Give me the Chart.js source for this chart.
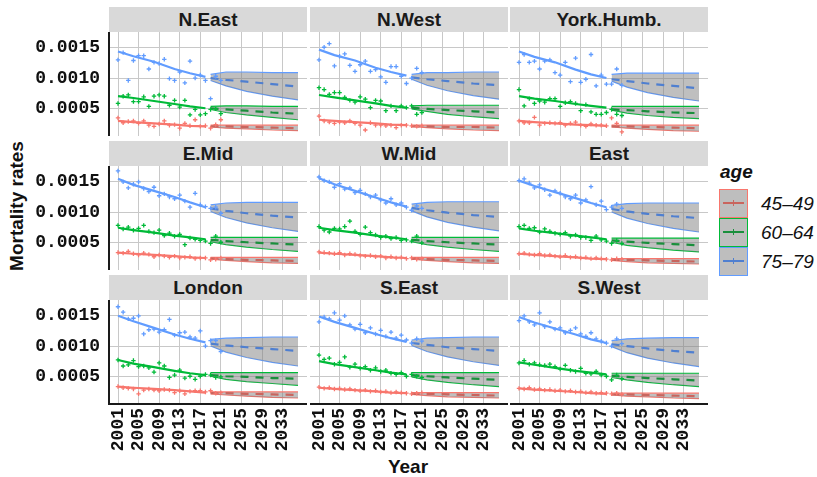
<!DOCTYPE html>
<html>
<head>
<meta charset="utf-8">
<script src="https://cdn.jsdelivr.net/npm/chart.js@4"></script>
<style>
  body { margin: 0; background: #fff; width: 817px; height: 477px; position: relative; overflow: hidden; font-family: "Liberation Sans", Arial, sans-serif; }
  .strip { position: absolute; height: 25px; background: #d9d9d9; text-align: center; font-weight: bold; font-size: 19px; line-height: 26px; color: #1a1a1a; }
  canvas { position: absolute; }
  .ytitle { position: absolute; left: 17px; top: 206px; transform: translate(-50%, -50%) rotate(-90deg); font-weight: bold; font-size: 19px; white-space: nowrap; color: #111; }
  .xtitle { position: absolute; left: 408px; top: 467px; transform: translate(-50%, -50%); font-weight: bold; font-size: 19px; color: #111; }
  .lgtitle { position: absolute; left: 720px; top: 161px; font-weight: bold; font-style: italic; font-size: 19px; color: #111; }
  .key { position: absolute; left: 719px; width: 27px; height: 27px; background: #bebebe; border: 1px solid; }
  .key .ln { position: absolute; left: 3px; top: 12px; width: 21px; height: 2px; }
  .key .pt { position: absolute; left: 13px; top: 10px; width: 1px; height: 6px; }
  .lglabel { position: absolute; left: 761px; font-style: italic; font-size: 19px; color: #111; line-height: 29px; }
</style>
</head>
<body>
<div class="ytitle">Mortality rates</div>
<div class="xtitle">Year</div>
<div class="lgtitle">age</div>
<script>
const regions = ["N.East", "N.West", "York.Humb.", "E.Mid", "W.Mid", "East", "London", "S.East", "S.West"];
const ages = ["45–49", "60–64", "75–79"];
const ageColors = ["#F8766D", "#00BA38", "#619CFF"];
const darkColors = ["#c9655e", "#1a8f3c", "#4f7fd0"];

const obsYears = [2001, 2002, 2003, 2004, 2005, 2006, 2007, 2008, 2009, 2010, 2011, 2012, 2013, 2014, 2015, 2016, 2017, 2018, 2019, 2020, 2021];
const fitYears = [2001, 2004, 2008, 2012, 2015, 2018];
const fcYears = [2019, 2022, 2026, 2031, 2036];
const yearTicks = [2001, 2005, 2009, 2013, 2017, 2021, 2025, 2029, 2033];
const rateTicks = [0.0005, 0.0010, 0.0015];
const rateTickLabels = ["0.0005", "0.0010", "0.0015"];

// observed rates, one row per region (same order as regions)
const obs45 = [
  [0.00034,0.00026,0.00028,0.00029,0.00025,0.00029,0.00022,0.00020,0.00024,0.00029,0.00022,0.00023,0.00017,0.00025,0.00021,0.00031,0.00020,0.00021,0.00017,0.00023,0.00031],
  [0.00037,0.00029,0.00027,0.00025,0.00027,0.00026,0.00029,0.00025,0.00022,0.00014,0.00026,0.00022,0.00022,0.00021,0.00022,0.00018,0.00022,0.00022,0.00021,0.00020,0.00021],
  [0.00029,0.00026,0.00026,0.00035,0.00022,0.00025,0.00026,0.00025,0.00026,0.00022,0.00025,0.00027,0.00022,0.00020,0.00024,0.00022,0.00022,0.00021,0.00034,0.00025,0.00011],
  [0.00033,0.00032,0.00035,0.00031,0.00029,0.00032,0.00030,0.00026,0.00029,0.00027,0.00025,0.00027,0.00024,0.00025,0.00026,0.00023,0.00024,0.00024,0.00021,0.00022,0.00024],
  [0.00034,0.00033,0.00032,0.00031,0.00033,0.00029,0.00031,0.00030,0.00028,0.00027,0.00028,0.00026,0.00027,0.00024,0.00026,0.00024,0.00025,0.00023,0.00024,0.00022,0.00023],
  [0.00031,0.00032,0.00030,0.00029,0.00031,0.00028,0.00029,0.00027,0.00026,0.00028,0.00025,0.00026,0.00024,0.00025,0.00023,0.00024,0.00023,0.00022,0.00021,0.00023,0.00022],
  [0.00033,0.00031,0.00030,0.00029,0.00021,0.00027,0.00029,0.00027,0.00026,0.00028,0.00027,0.00023,0.00026,0.00021,0.00025,0.00026,0.00026,0.00024,0.00026,0.00022,0.00023],
  [0.00032,0.00030,0.00031,0.00029,0.00030,0.00028,0.00029,0.00027,0.00026,0.00027,0.00025,0.00026,0.00024,0.00025,0.00023,0.00024,0.00023,0.00022,0.00021,0.00022,0.00023],
  [0.00030,0.00029,0.00031,0.00028,0.00029,0.00027,0.00028,0.00026,0.00027,0.00025,0.00026,0.00024,0.00025,0.00023,0.00024,0.00022,0.00023,0.00022,0.00021,0.00022,0.00020]
];
const obs60 = [
  [0.00058,0.00070,0.00072,0.00061,0.00061,0.00069,0.00053,0.00070,0.00072,0.00070,0.00055,0.00063,0.00052,0.00063,0.00039,0.00048,0.00039,0.00041,0.00048,0.00049,0.00041],
  [0.00084,0.00081,0.00073,0.00076,0.00076,0.00068,0.00063,0.00060,0.00069,0.00065,0.00051,0.00063,0.00062,0.00046,0.00054,0.00046,0.00054,0.00051,0.00054,0.00040,0.00043],
  [0.00081,0.00054,0.00066,0.00058,0.00062,0.00060,0.00066,0.00066,0.00053,0.00059,0.00061,0.00058,0.00046,0.00056,0.00044,0.00040,0.00040,0.00043,0.00048,0.00040,0.00038],
  [0.00078,0.00072,0.00075,0.00070,0.00073,0.00078,0.00068,0.00066,0.00070,0.00061,0.00065,0.00060,0.00063,0.00046,0.00057,0.00055,0.00053,0.00052,0.00048,0.00060,0.00050],
  [0.00076,0.00070,0.00067,0.00073,0.00072,0.00076,0.00085,0.00068,0.00063,0.00075,0.00066,0.00062,0.00058,0.00060,0.00056,0.00058,0.00053,0.00054,0.00052,0.00060,0.00049],
  [0.00076,0.00078,0.00073,0.00074,0.00067,0.00072,0.00068,0.00065,0.00063,0.00066,0.00060,0.00062,0.00058,0.00058,0.00053,0.00060,0.00054,0.00052,0.00048,0.00053,0.00048],
  [0.00077,0.00067,0.00069,0.00076,0.00066,0.00067,0.00064,0.00057,0.00072,0.00067,0.00048,0.00052,0.00060,0.00047,0.00050,0.00045,0.00050,0.00053,0.00052,0.00048,0.00049],
  [0.00085,0.00078,0.00080,0.00070,0.00073,0.00082,0.00065,0.00070,0.00063,0.00066,0.00060,0.00064,0.00058,0.00060,0.00055,0.00053,0.00056,0.00050,0.00053,0.00050,0.00048],
  [0.00072,0.00076,0.00070,0.00072,0.00069,0.00068,0.00070,0.00066,0.00062,0.00068,0.00060,0.00058,0.00063,0.00055,0.00054,0.00058,0.00052,0.00050,0.00044,0.00052,0.00046]
];
const obs75 = [
  [0.00130,0.00142,0.00096,0.00129,0.00137,0.00137,0.00115,0.00126,0.00124,0.00131,0.00099,0.00096,0.00110,0.00092,0.00128,0.00100,0.00105,0.00096,0.00066,0.00103,0.00096],
  [0.00130,0.00151,0.00157,0.00120,0.00136,0.00140,0.00121,0.00111,0.00122,0.00128,0.00111,0.00114,0.00102,0.00093,0.00119,0.00119,0.00103,0.00091,0.00100,0.00116,0.00109],
  [0.00126,0.00139,0.00126,0.00128,0.00115,0.00128,0.00130,0.00109,0.00105,0.00126,0.00094,0.00133,0.00093,0.00098,0.00139,0.00087,0.00105,0.00090,0.00090,0.00115,0.00088],
  [0.00168,0.00150,0.00140,0.00146,0.00150,0.00139,0.00134,0.00141,0.00127,0.00130,0.00125,0.00122,0.00128,0.00118,0.00108,0.00131,0.00112,0.00109,0.00106,0.00108,0.00098],
  [0.00158,0.00152,0.00150,0.00141,0.00147,0.00138,0.00140,0.00132,0.00136,0.00130,0.00125,0.00128,0.00120,0.00115,0.00122,0.00112,0.00115,0.00108,0.00103,0.00110,0.00106],
  [0.00152,0.00155,0.00148,0.00140,0.00145,0.00137,0.00128,0.00135,0.00131,0.00125,0.00122,0.00128,0.00115,0.00120,0.00142,0.00112,0.00118,0.00104,0.00108,0.00113,0.00106],
  [0.00165,0.00156,0.00145,0.00146,0.00150,0.00120,0.00127,0.00128,0.00123,0.00127,0.00144,0.00118,0.00122,0.00123,0.00115,0.00113,0.00125,0.00100,0.00109,0.00109,0.00091],
  [0.00140,0.00148,0.00145,0.00155,0.00143,0.00150,0.00135,0.00128,0.00136,0.00122,0.00130,0.00120,0.00126,0.00116,0.00123,0.00113,0.00118,0.00110,0.00105,0.00112,0.00108],
  [0.00142,0.00150,0.00140,0.00135,0.00155,0.00132,0.00140,0.00128,0.00130,0.00122,0.00126,0.00130,0.00120,0.00116,0.00122,0.00112,0.00108,0.00105,0.00100,0.00112,0.00104]
];

// fitted rates at fitYears
const fit45 = [
  [0.00029,0.00027,0.00025,0.00023,0.00021,0.00020],
  [0.00031,0.00029,0.00027,0.00025,0.00023,0.00022],
  [0.00029,0.00027,0.00025,0.00023,0.00022,0.00021],
  [0.00033,0.00031,0.00029,0.00027,0.00025,0.00024],
  [0.00033,0.00031,0.00029,0.00027,0.00025,0.00024],
  [0.00031,0.00029,0.00027,0.00025,0.00023,0.00022],
  [0.00033,0.00031,0.00029,0.00027,0.00025,0.00023],
  [0.00031,0.00029,0.00027,0.00025,0.00023,0.00022],
  [0.00030,0.00028,0.00026,0.00024,0.00022,0.00021]
];
const fit60 = [
  [0.00070,0.00067,0.00062,0.00057,0.00053,0.00050],
  [0.00072,0.00068,0.00063,0.00058,0.00054,0.00051],
  [0.00070,0.00066,0.00062,0.00057,0.00054,0.00051],
  [0.00074,0.00070,0.00066,0.00061,0.00058,0.00055],
  [0.00074,0.00070,0.00066,0.00061,0.00058,0.00055],
  [0.00073,0.00069,0.00065,0.00061,0.00058,0.00055],
  [0.00077,0.00071,0.00065,0.00059,0.00055,0.00052],
  [0.00075,0.00070,0.00065,0.00060,0.00056,0.00053],
  [0.00073,0.00069,0.00064,0.00059,0.00056,0.00053]
];
const fit75 = [
  [0.00144,0.00136,0.00127,0.00115,0.00108,0.00102],
  [0.00147,0.00138,0.00129,0.00117,0.00110,0.00104],
  [0.00144,0.00135,0.00126,0.00114,0.00106,0.00100],
  [0.00155,0.00145,0.00135,0.00125,0.00116,0.00108],
  [0.00156,0.00146,0.00135,0.00124,0.00116,0.00109],
  [0.00152,0.00143,0.00133,0.00123,0.00115,0.00108],
  [0.00150,0.00141,0.00130,0.00119,0.00112,0.00106],
  [0.00149,0.00140,0.00130,0.00120,0.00113,0.00107],
  [0.00148,0.00139,0.00129,0.00119,0.00111,0.00105]
];

// forecasts at fcYears: mean, lower and upper bounds
const fcMean45 = [
  [0.00020,0.00020,0.00019,0.00018,0.00017],
  [0.00020,0.00020,0.00019,0.00019,0.00018],
  [0.00020,0.00020,0.00019,0.00018,0.00017],
  [0.00023,0.00022,0.00021,0.00020,0.00019],
  [0.00023,0.00022,0.00021,0.00020,0.00019],
  [0.00021,0.00021,0.00020,0.00019,0.00018],
  [0.00022,0.00022,0.00021,0.00020,0.00019],
  [0.00021,0.00021,0.00020,0.00019,0.00018],
  [0.00020,0.00020,0.00019,0.00018,0.00017]
];
const fcLo45 = [
  [0.00019,0.00017,0.00016,0.00014,0.00013],
  [0.00020,0.00018,0.00016,0.00014,0.00013],
  [0.00019,0.00017,0.00015,0.00013,0.00012],
  [0.00022,0.00020,0.00018,0.00016,0.00015],
  [0.00022,0.00020,0.00018,0.00016,0.00015],
  [0.00020,0.00018,0.00016,0.00015,0.00014],
  [0.00021,0.00019,0.00017,0.00015,0.00014],
  [0.00020,0.00018,0.00016,0.00015,0.00014],
  [0.00019,0.00017,0.00016,0.00014,0.00013]
];
const fcHi45 = [
  [0.00022,0.00022,0.00022,0.00022,0.00022],
  [0.00022,0.00022,0.00022,0.00022,0.00022],
  [0.00022,0.00022,0.00022,0.00022,0.00022],
  [0.00025,0.00025,0.00025,0.00025,0.00025],
  [0.00025,0.00025,0.00025,0.00025,0.00025],
  [0.00023,0.00023,0.00023,0.00023,0.00023],
  [0.00024,0.00024,0.00024,0.00024,0.00024],
  [0.00023,0.00023,0.00023,0.00023,0.00023],
  [0.00022,0.00022,0.00022,0.00022,0.00022]
];
const fcMean60 = [
  [0.00050,0.00048,0.00046,0.00043,0.00041],
  [0.00051,0.00049,0.00047,0.00045,0.00043],
  [0.00048,0.00047,0.00045,0.00043,0.00042],
  [0.00054,0.00052,0.00050,0.00048,0.00046],
  [0.00054,0.00052,0.00050,0.00048,0.00046],
  [0.00053,0.00051,0.00049,0.00047,0.00045],
  [0.00052,0.00050,0.00049,0.00047,0.00046],
  [0.00052,0.00050,0.00048,0.00046,0.00044],
  [0.00051,0.00049,0.00047,0.00045,0.00043]
];
const fcLo60 = [
  [0.00048,0.00043,0.00039,0.00035,0.00031],
  [0.00049,0.00045,0.00040,0.00036,0.00033],
  [0.00047,0.00042,0.00038,0.00035,0.00033],
  [0.00051,0.00046,0.00042,0.00038,0.00035],
  [0.00051,0.00046,0.00042,0.00038,0.00035],
  [0.00050,0.00045,0.00041,0.00037,0.00034],
  [0.00050,0.00045,0.00041,0.00038,0.00035],
  [0.00049,0.00044,0.00040,0.00036,0.00033],
  [0.00048,0.00044,0.00040,0.00036,0.00033]
];
const fcHi60 = [
  [0.00053,0.00054,0.00054,0.00053,0.00053],
  [0.00054,0.00055,0.00055,0.00055,0.00055],
  [0.00053,0.00053,0.00053,0.00053,0.00053],
  [0.00058,0.00058,0.00058,0.00058,0.00058],
  [0.00058,0.00058,0.00058,0.00058,0.00058],
  [0.00057,0.00057,0.00057,0.00057,0.00057],
  [0.00056,0.00056,0.00056,0.00056,0.00056],
  [0.00056,0.00056,0.00056,0.00056,0.00056],
  [0.00055,0.00055,0.00055,0.00055,0.00055]
];
const fcMean75 = [
  [0.00100,0.00097,0.00094,0.00090,0.00086],
  [0.00101,0.00098,0.00095,0.00091,0.00088],
  [0.00098,0.00095,0.00091,0.00087,0.00083],
  [0.00106,0.00102,0.00098,0.00094,0.00091],
  [0.00107,0.00103,0.00099,0.00095,0.00092],
  [0.00105,0.00101,0.00097,0.00093,0.00090],
  [0.00104,0.00101,0.00098,0.00095,0.00092],
  [0.00105,0.00102,0.00098,0.00095,0.00092],
  [0.00103,0.00100,0.00096,0.00092,0.00089]
];
const fcLo75 = [
  [0.00096,0.00087,0.00078,0.00070,0.00064],
  [0.00098,0.00088,0.00079,0.00071,0.00065],
  [0.00095,0.00085,0.00076,0.00068,0.00062],
  [0.00101,0.00091,0.00082,0.00074,0.00068],
  [0.00102,0.00092,0.00083,0.00075,0.00069],
  [0.00100,0.00090,0.00081,0.00073,0.00067],
  [0.00100,0.00090,0.00081,0.00073,0.00067],
  [0.00101,0.00091,0.00082,0.00074,0.00068],
  [0.00099,0.00089,0.00080,0.00072,0.00066]
];
const fcHi75 = [
  [0.00106,0.00110,0.00110,0.00109,0.00109],
  [0.00106,0.00109,0.00109,0.00110,0.00110],
  [0.00106,0.00108,0.00108,0.00108,0.00108],
  [0.00112,0.00115,0.00116,0.00116,0.00116],
  [0.00113,0.00116,0.00117,0.00117,0.00117],
  [0.00111,0.00114,0.00115,0.00115,0.00115],
  [0.00111,0.00113,0.00114,0.00115,0.00115],
  [0.00110,0.00113,0.00114,0.00115,0.00115],
  [0.00109,0.00112,0.00113,0.00114,0.00114]
];

const obsByAge = [obs45, obs60, obs75];
const fitByAge = [fit45, fit60, fit75];
const meanByAge = [fcMean45, fcMean60, fcMean75];
const loByAge = [fcLo45, fcLo60, fcLo75];
const hiByAge = [fcHi45, fcHi60, fcHi75];

// panel layout (pixels)
const colLeft = [109, 310, 510];
const stripTop = [7, 141, 275];
const PW = 198, PH = 104, SH = 25;

const toXY = (xs, ys) => xs.map((x, k) => ({ x: x, y: ys[k] }));
const monoFont = { family: "'Liberation Mono', 'Courier New', monospace", weight: "bold", size: 18 };

// legend keys
ages.forEach((a, i) => {
  const key = document.createElement("div");
  key.className = "key";
  key.style.top = (189 + i * 29) + "px";
  key.style.borderColor = ageColors[i];
  key.innerHTML = `<div class="ln" style="background:${darkColors[i]}"></div><div class="pt" style="background:${darkColors[i]}"></div>`;
  document.body.appendChild(key);
  const lab = document.createElement("div");
  lab.className = "lglabel";
  lab.style.top = (189 + i * 29) + "px";
  lab.textContent = a;
  document.body.appendChild(lab);
});

regions.forEach((name, i) => {
  const r = Math.floor(i / 3), c = i % 3;

  const strip = document.createElement("div");
  strip.className = "strip";
  strip.style.left = colLeft[c] + "px";
  strip.style.top = stripTop[r] + "px";
  strip.style.width = PW + "px";
  strip.textContent = name;
  document.body.appendChild(strip);

  const leftPad = c === 0 ? colLeft[0] : 0;
  const botPad = r === 2 ? 52 : 0;
  const cv = document.createElement("canvas");
  cv.width = PW + leftPad;
  cv.height = PH + botPad;
  cv.style.left = (colLeft[c] - leftPad) + "px";
  cv.style.top = (stripTop[r] + SH) + "px";
  document.body.appendChild(cv);

  // lower order is drawn on top
  const datasets = [];
  for (let a = 0; a < 3; a++) {
    datasets.push({
      data: toXY(obsYears, obsByAge[a][i]), showLine: false, order: 0,
      pointStyle: "cross", pointRadius: 2.2, pointBorderWidth: 1.3,
      borderColor: ageColors[a], backgroundColor: ageColors[a]
    });
    datasets.push({
      data: toXY(fcYears, meanByAge[a][i]), order: 1, fill: false,
      borderColor: darkColors[a], borderWidth: 2.2, borderDash: [8, 7], pointRadius: 0
    });
    datasets.push({
      data: toXY(fcYears, hiByAge[a][i]), order: 2, fill: "+1",
      borderColor: ageColors[a], borderWidth: 1.2, pointRadius: 0,
      backgroundColor: "rgba(128,128,128,0.5)"
    });
    datasets.push({
      data: toXY(fcYears, loByAge[a][i]), order: 2, fill: false,
      borderColor: ageColors[a], borderWidth: 1.2, pointRadius: 0
    });
    datasets.push({
      data: toXY(fitYears, fitByAge[a][i]), order: 3, fill: false,
      borderColor: ageColors[a], borderWidth: 2.2, pointRadius: 0
    });
  }

  new Chart(cv, {
    type: "line",
    data: { datasets },
    options: {
      responsive: false,
      animation: false,
      events: [],
      layout: { padding: 0, autoPadding: false },
      plugins: { legend: { display: false }, tooltip: { enabled: false } },
      scales: {
        x: {
          type: "linear", min: 1999.25, max: 2037.75,
          afterBuildTicks: (s) => { s.ticks = yearTicks.map((v) => ({ value: v })); },
          afterFit: (s) => { s.height = botPad; s.paddingLeft = 0; s.paddingRight = 0; },
          grid: { color: "#c8c8c8", lineWidth: 1, drawTicks: false },
          border: { display: r === 2, color: "#1a1a1a", width: 2 },
          ticks: {
            display: r === 2, autoSkip: false, maxRotation: 90, minRotation: 90, padding: 4,
            color: "#111", font: monoFont, callback: (v) => String(v)
          }
        },
        y: {
          type: "linear", min: 0.000041, max: 0.001762,
          afterBuildTicks: (s) => { s.ticks = rateTicks.map((v) => ({ value: v })); },
          afterFit: (s) => { s.width = leftPad; s.paddingTop = 0; s.paddingBottom = 0; },
          grid: { color: "#c8c8c8", lineWidth: 1, drawTicks: false },
          border: { display: c === 0, color: "#1a1a1a", width: 2 },
          ticks: {
            display: c === 0, padding: 9, color: "#111", font: monoFont,
            callback: (v, k) => rateTickLabels[k]
          }
        }
      }
    }
  });
});
</script>
</body>
</html>
